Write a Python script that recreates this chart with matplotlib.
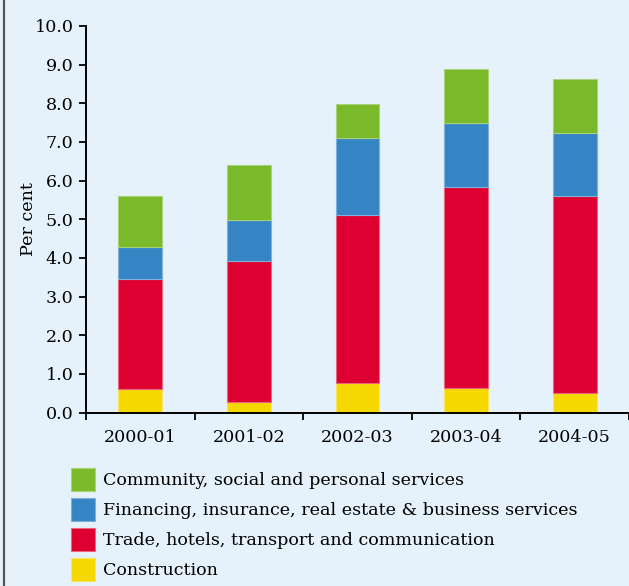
import matplotlib
matplotlib.use("Agg")
import matplotlib.pyplot as plt
import numpy as np
from matplotlib.patches import Patch
from matplotlib.lines import Line2D

# Growth contribution by sector (per cent)
years = ["2000-01", "2001-02", "2002-03", "2003-04", "2004-05"]
construction = [0.61, 0.27, 0.76, 0.64, 0.51]
trade = [2.85, 3.65, 4.35, 5.19, 5.09]
financing = [0.81, 1.05, 2.00, 1.65, 1.63]
community = [1.33, 1.44, 0.86, 1.40, 1.41]

series = [
    ("Construction", construction, "#F5D800", "#F8E566"),
    ("Trade, hotels, transport and communication", trade, "#DE0030", "#E8667F"),
    ("Financing, insurance, real estate & business services", financing, "#3585C5", "#7FB0DA"),
    ("Community, social and personal services", community, "#7AB929", "#A9D27A"),
]

bg = "#E6F2FB"
fs = 12.6
plt.rcParams["font.family"] = ["DejaVu Serif"]

fig = plt.figure(figsize=(6.29, 5.86), dpi=100, facecolor=bg)
ax = fig.add_axes([86 / 629, 1 - 412.5 / 586, 543 / 629, 386.5 / 586])
ax.set_facecolor(bg)

x = np.arange(len(years))
bottom = np.zeros(len(years))
for name, vals, color, edge in series:
    ax.bar(x, vals, width=0.405, bottom=bottom, color=color,
           edgecolor=edge, linewidth=0.8, label=name, zorder=2)
    bottom += np.array(vals)

ax.set_xlim(-0.5, 4.5)
ax.set_ylim(0, 10)
yt = np.arange(0, 10.01, 1.0)
ax.set_yticks(yt)
ax.set_yticklabels([f"{v:.1f}" for v in yt], fontsize=fs)
ax.set_xticks(x)
ax.set_xticklabels(years, fontsize=fs)
ax.set_xticks(np.arange(-0.5, 4.6, 1.0), minor=True)
ax.tick_params(axis="x", which="major", length=0, pad=12)
ax.tick_params(axis="x", which="minor", length=5, width=1.3, direction="out")
ax.tick_params(axis="y", length=5, width=1.3, direction="out", pad=4)

for side in ("top", "right"):
    ax.spines[side].set_visible(False)
for side in ("left", "bottom"):
    ax.spines[side].set_linewidth(1.4)

ax.set_ylabel("Per cent", fontsize=fs)
ax.yaxis.set_label_coords(-0.09, 0.5)

# Legend, top entry first
handles = [Patch(facecolor=c, edgecolor=e, linewidth=0.8) for _, _, c, e in series][::-1]
labels = [n for n, _, _, _ in series][::-1]
fig.legend(handles, labels, loc="upper left", bbox_to_anchor=(64 / 629, 1 - 461 / 586),
           frameon=False, fontsize=fs, handlelength=1.37, handleheight=1.64,
           labelspacing=0.40, handletextpad=0.45, borderaxespad=0)

# Left frame line
fig.add_artist(Line2D([4 / 629, 4 / 629], [0, 1], color="#555555", linewidth=1.6,
                      transform=fig.transFigure))

fig.savefig("out.png", dpi=100, facecolor=bg)
